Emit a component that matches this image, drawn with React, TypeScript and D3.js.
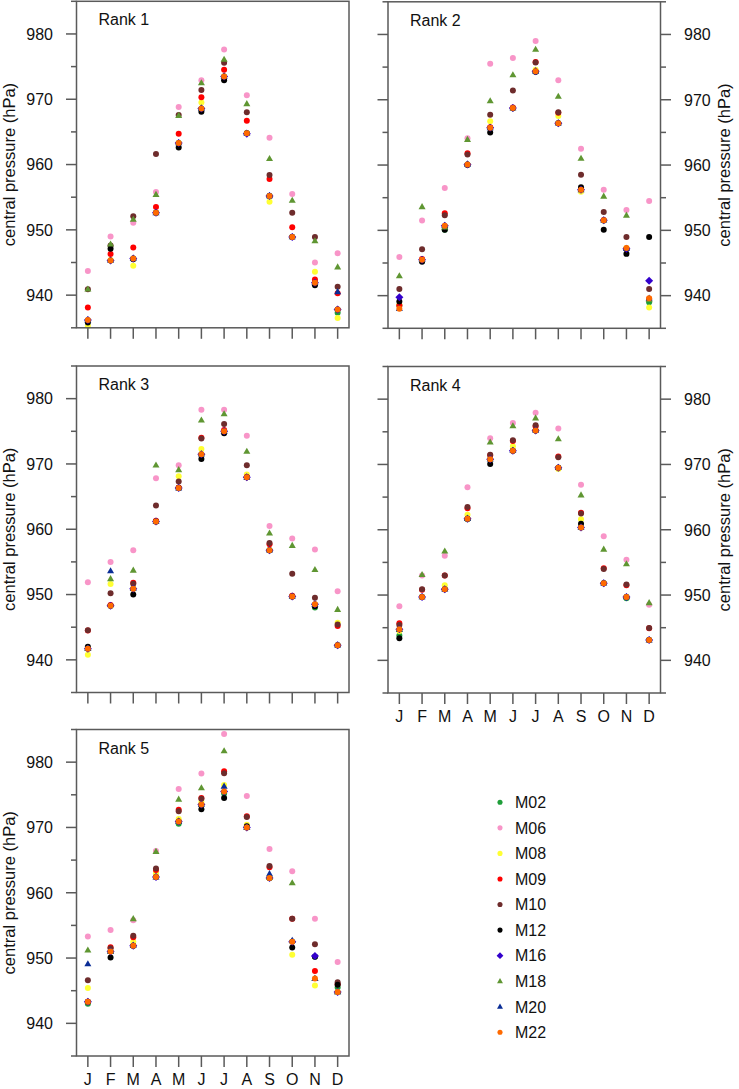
// @ts-nocheck
import React from 'react';
import * as d3 from 'd3';

const months = ['J', 'F', 'M', 'A', 'M', 'J', 'J', 'A', 'S', 'O', 'N', 'D'];
const models = ['M02', 'M06', 'M08', 'M09', 'M10', 'M12', 'M16', 'M18', 'M20', 'M22'];
const colors = ['#1f9e3a', '#f895c8', '#ffff33', '#ff0000', '#6e2c2c', '#000000', '#3300cc', '#5f9632', '#0a2d96', '#ff6a00'];
const shapes = ['circle', 'circle', 'circle', 'circle', 'circle', 'circle', 'diamond', 'triangle', 'triangle', 'circle'];
const yTicks = [940, 950, 960, 970, 980];

// one row per model (same order as models), one value per month
const rank1 = [
  [936.1, 945.3, 945.6, 952.6, 963.3, 968.6, 973.5, 964.8, 955.2, 948.9, 942.0, 937.3],
  [943.7, 949.0, 951.1, 955.8, 968.8, 972.9, 977.6, 970.6, 964.1, 955.5, 945.0, 946.4],
  [935.3, 945.4, 944.5, 952.6, 963.3, 969.5, 973.5, 964.8, 954.3, 948.9, 943.6, 936.5],
  [938.1, 946.3, 947.3, 953.5, 964.7, 970.3, 974.5, 966.7, 957.8, 950.4, 942.4, 940.3],
  [940.9, 947.6, 952.1, 961.6, 967.6, 971.4, 975.6, 968.0, 958.4, 952.6, 948.9, 941.3],
  [935.8, 947.1, 945.5, 952.6, 962.6, 968.1, 972.9, 964.8, 955.2, 948.9, 941.5, 937.8],
  [936.2, 945.3, 945.6, 952.6, 963.3, 968.6, 973.5, 964.7, 955.2, 948.9, 941.9, 937.8],
  [940.9, 947.8, 951.6, 955.4, 967.5, 972.5, 976.1, 969.3, 960.9, 954.5, 948.3, 944.3],
  [936.2, 945.3, 945.6, 952.6, 963.3, 968.6, 973.5, 964.8, 955.2, 948.9, 941.9, 940.5],
  [936.2, 945.3, 945.6, 952.6, 963.3, 968.6, 973.5, 964.8, 955.2, 948.9, 941.9, 937.8],
];

const rank2 = [
  [938.5, 945.3, 950.1, 960.1, 965.7, 968.7, 974.3, 966.4, 956.2, 951.5, 947.2, 939.0],
  [945.9, 951.5, 956.5, 964.1, 975.5, 976.4, 979.0, 973.0, 962.5, 956.2, 953.1, 954.5],
  [938.6, 945.4, 950.6, 960.1, 966.7, 968.7, 974.6, 967.5, 955.9, 951.5, 947.3, 938.2],
  [938.5, 945.6, 952.6, 961.8, 965.8, 968.8, 975.8, 968.0, 956.3, 951.6, 947.2, 939.5],
  [941.0, 947.1, 952.3, 961.6, 967.7, 971.4, 975.7, 968.1, 958.5, 952.8, 949.0, 941.0],
  [939.1, 945.2, 950.1, 960.0, 965.0, 968.7, 974.3, 966.4, 956.6, 950.1, 946.4, 949.0],
  [939.75, 945.5, 950.7, 960.1, 965.7, 968.75, 974.35, 966.4, 956.2, 951.55, 947.2, 942.3],
  [943.0, 953.6, 950.5, 963.9, 969.8, 973.8, 977.7, 970.5, 961.0, 955.2, 952.3, 939.4],
  [938.0, 945.5, 950.7, 960.1, 965.7, 968.75, 974.35, 966.4, 956.2, 951.55, 947.2, 939.6],
  [938.0, 945.5, 950.7, 960.1, 965.7, 968.75, 974.35, 966.4, 956.2, 951.55, 947.3, 939.6],
];

const rank3 = [
  [941.7, 948.3, 950.9, 961.2, 966.3, 971.5, 975.0, 967.95, 956.8, 949.7, 948.0, 942.25],
  [951.9, 955.0, 956.8, 967.8, 969.8, 978.3, 978.3, 974.3, 960.5, 958.6, 956.9, 950.5],
  [940.8, 951.6, 950.9, 961.2, 968.1, 972.3, 975.0, 968.4, 956.8, 949.7, 948.5, 945.7],
  [944.5, 948.4, 951.8, 961.3, 966.4, 974.0, 975.2, 968.0, 957.7, 949.8, 948.3, 945.2],
  [944.55, 950.2, 951.65, 963.65, 967.3, 973.9, 976.1, 969.8, 957.9, 953.2, 949.5, 945.4],
  [942.0, 948.3, 950.0, 961.2, 966.3, 970.75, 974.7, 967.95, 956.8, 949.7, 948.2, 942.25],
  [941.7, 948.3, 950.9, 961.2, 966.3, 971.5, 975.0, 967.95, 956.8, 949.7, 948.5, 942.25],
  [941.7, 952.4, 953.7, 969.8, 969.1, 976.7, 977.65, 971.9, 959.4, 957.5, 953.8, 947.7],
  [941.7, 953.6, 950.9, 961.2, 966.3, 971.5, 975.0, 967.95, 956.8, 949.7, 948.5, 942.25],
  [941.7, 948.3, 950.9, 961.2, 966.3, 971.5, 975.0, 967.95, 956.8, 949.7, 948.5, 942.25],
];

const rank4 = [
  [943.8, 949.7, 950.9, 961.6, 970.8, 972.1, 975.2, 969.5, 960.35, 951.8, 949.5, 943.1],
  [948.3, 953.0, 956.0, 966.5, 974.0, 976.35, 977.9, 975.5, 966.9, 959.0, 955.4, 948.5],
  [944.5, 949.7, 951.5, 962.3, 970.8, 972.8, 975.2, 969.3, 961.6, 951.8, 949.7, 943.1],
  [945.7, 950.8, 953.0, 963.3, 971.4, 973.6, 975.8, 971.2, 962.6, 954.1, 951.5, 944.9],
  [945.4, 950.9, 953.0, 963.5, 971.5, 973.7, 976.0, 971.1, 962.5, 954.0, 951.6, 944.95],
  [943.4, 949.7, 950.9, 961.7, 970.05, 972.1, 975.2, 969.5, 960.9, 951.8, 949.7, 943.1],
  [944.75, 949.7, 950.9, 961.7, 970.8, 972.1, 975.2, 969.5, 960.35, 951.8, 949.7, 943.1],
  [944.75, 953.1, 956.7, 961.7, 973.4, 975.9, 977.1, 973.9, 965.3, 957.0, 954.75, 948.8],
  [944.75, 949.7, 950.9, 961.7, 970.8, 972.1, 975.2, 969.5, 960.35, 951.8, 949.7, 943.1],
  [944.75, 949.7, 950.9, 961.7, 970.8, 972.1, 975.2, 969.5, 960.35, 951.8, 949.7, 943.1],
];

const rank5 = [
  [943.0, 951.0, 951.9, 962.4, 970.55, 973.5, 975.2, 970.0, 962.25, 952.5, 950.2, 945.5],
  [953.3, 954.3, 955.8, 966.4, 975.9, 978.25, 984.3, 974.8, 966.7, 963.3, 956.0, 949.4],
  [945.4, 951.0, 952.5, 963.0, 971.3, 973.9, 976.5, 970.4, 962.25, 950.5, 945.8, 944.8],
  [943.3, 951.65, 953.2, 963.5, 972.7, 974.5, 978.6, 971.7, 963.9, 956.0, 948.0, 946.0],
  [946.6, 951.5, 953.4, 963.7, 972.5, 974.4, 978.3, 971.6, 964.1, 956.0, 952.1, 946.3],
  [943.3, 950.1, 951.9, 962.4, 970.9, 972.8, 974.5, 970.2, 962.25, 951.6, 950.2, 945.9],
  [943.3, 951.0, 951.9, 962.4, 970.9, 973.5, 975.5, 970.0, 962.25, 952.5, 950.3, 944.8],
  [951.2, 951.0, 956.0, 966.3, 974.3, 976.05, 981.7, 970.0, 962.3, 961.5, 946.85, 944.8],
  [949.1, 951.0, 951.9, 962.4, 970.9, 973.5, 976.3, 970.0, 962.9, 952.7, 946.85, 944.8],
  [943.3, 951.0, 951.9, 962.4, 970.9, 973.5, 975.5, 970.0, 962.25, 952.5, 946.85, 944.8],
];

const W = 739;
const H = 1089;
const pw = 272.5;
const ph = 326.5;
const font = '"Liberation Sans", Arial, Helvetica, sans-serif';
const frameColor = '#5a5a5a';

const panels = [
  { title: 'Rank 1', data: rank1, x: 76.5, y: 1.3, side: 'left', xLabels: false },
  { title: 'Rank 2', data: rank2, x: 388, y: 1.8, side: 'right', xLabels: false },
  { title: 'Rank 3', data: rank3, x: 76.5, y: 366, side: 'left', xLabels: false },
  { title: 'Rank 4', data: rank4, x: 388, y: 366.5, side: 'right', xLabels: true },
  { title: 'Rank 5', data: rank5, x: 76.5, y: 729.5, side: 'left', xLabels: true },
];

const marker = (shape, cx, cy, color, key, scale = 1) => {
  if (shape === 'diamond') {
    const r = 4 * scale;
    return <path key={key} d={`M${cx},${cy - r}L${cx + r},${cy}L${cx},${cy + r}L${cx - r},${cy}Z`} fill={color} />;
  }
  if (shape === 'triangle') {
    const s = 7 * scale;
    const h = s * 0.87;
    return <path key={key} d={`M${cx},${cy - h * 0.62}L${cx + s / 2},${cy + h * 0.38}L${cx - s / 2},${cy + h * 0.38}Z`} fill={color} />;
  }
  return <circle key={key} cx={cx} cy={cy} r={3 * scale} fill={color} />;
};

const Panel = ({ p }) => {
  const x = d3.scalePoint().domain(d3.range(12)).range([p.x, p.x + pw]).padding(0.5);
  const y = d3.scaleLinear().domain([935, 985]).range([p.y + ph, p.y]);
  const minor = d3.range(935, 986, 5).filter(v => v % 10 !== 0);
  const left = p.x;
  const right = p.x + pw;
  const bottom = p.y + ph;
  const tickSides = p.side === 'left' ? ['left'] : ['left', 'right'];

  return (
    <g>
      {p.data.map((vals, mi) =>
        vals.map((v, k) => (isNaN(v) ? null : marker(shapes[mi], x(k), y(v), colors[mi], `${mi}-${k}`)))
      )}
      <rect x={left} y={p.y} width={pw} height={ph} fill="none" stroke={frameColor} strokeWidth={1.5} />
      {tickSides.map(side => {
        const x0 = side === 'left' ? left : right;
        const dir = side === 'left' ? -1 : 1;
        return (
          <g key={side} stroke={frameColor} strokeWidth={1.5}>
            {yTicks.map(t => <line key={t} x1={x0} x2={x0 + dir * 10.5} y1={y(t)} y2={y(t)} />)}
            {minor.map(t => <line key={t} x1={x0} x2={x0 + dir * 5.5} y1={y(t)} y2={y(t)} />)}
          </g>
        );
      })}
      <g stroke={frameColor} strokeWidth={1.5}>
        {months.map((m, k) => <line key={k} x1={x(k)} x2={x(k)} y1={bottom} y2={bottom + 11} />)}
      </g>
      {yTicks.map(t => (
        <text key={t} x={p.side === 'left' ? left - 23.5 : right + 23.5} y={y(t)} dy="0.36em"
          textAnchor={p.side === 'left' ? 'end' : 'start'} fontSize={16} fontFamily={font} fill="#111">{t}</text>
      ))}
      {p.xLabels && months.map((m, k) => (
        <text key={k} x={x(k)} y={bottom + 29} textAnchor="middle" fontSize={16} fontFamily={font} fill="#111">{m}</text>
      ))}
      <text x={left + 22} y={p.y + 24} fontSize={16} fontFamily={font} fill="#111">{p.title}</text>
      <text transform={`translate(${p.side === 'left' ? 15 : 730},${p.y + ph / 2}) rotate(-90)`} textAnchor="middle"
        fontSize={16.5} fontFamily={font} fill="#111">central pressure (hPa)</text>
    </g>
  );
};

const App = () => {
  const legendY = d3.scalePoint().domain(models).range([802.3, 1032.3]);
  return (
    <svg width={W} height={H} viewBox={`0 0 ${W} ${H}`} style={{ position: 'absolute', left: 0, top: 0, background: '#fff' }}>
      <rect width={W} height={H} fill="#fff" />
      {panels.map(p => <Panel key={p.title} p={p} />)}
      <g>
        {models.map((m, i) => (
          <g key={m}>
            {marker(shapes[i], 500, legendY(m), colors[i], 'lm' + i, 0.85)}
            <text x={515} y={legendY(m)} dy="0.36em" fontSize={16} fontFamily={font} fill="#111">{m}</text>
          </g>
        ))}
      </g>
    </svg>
  );
};

export default App;
